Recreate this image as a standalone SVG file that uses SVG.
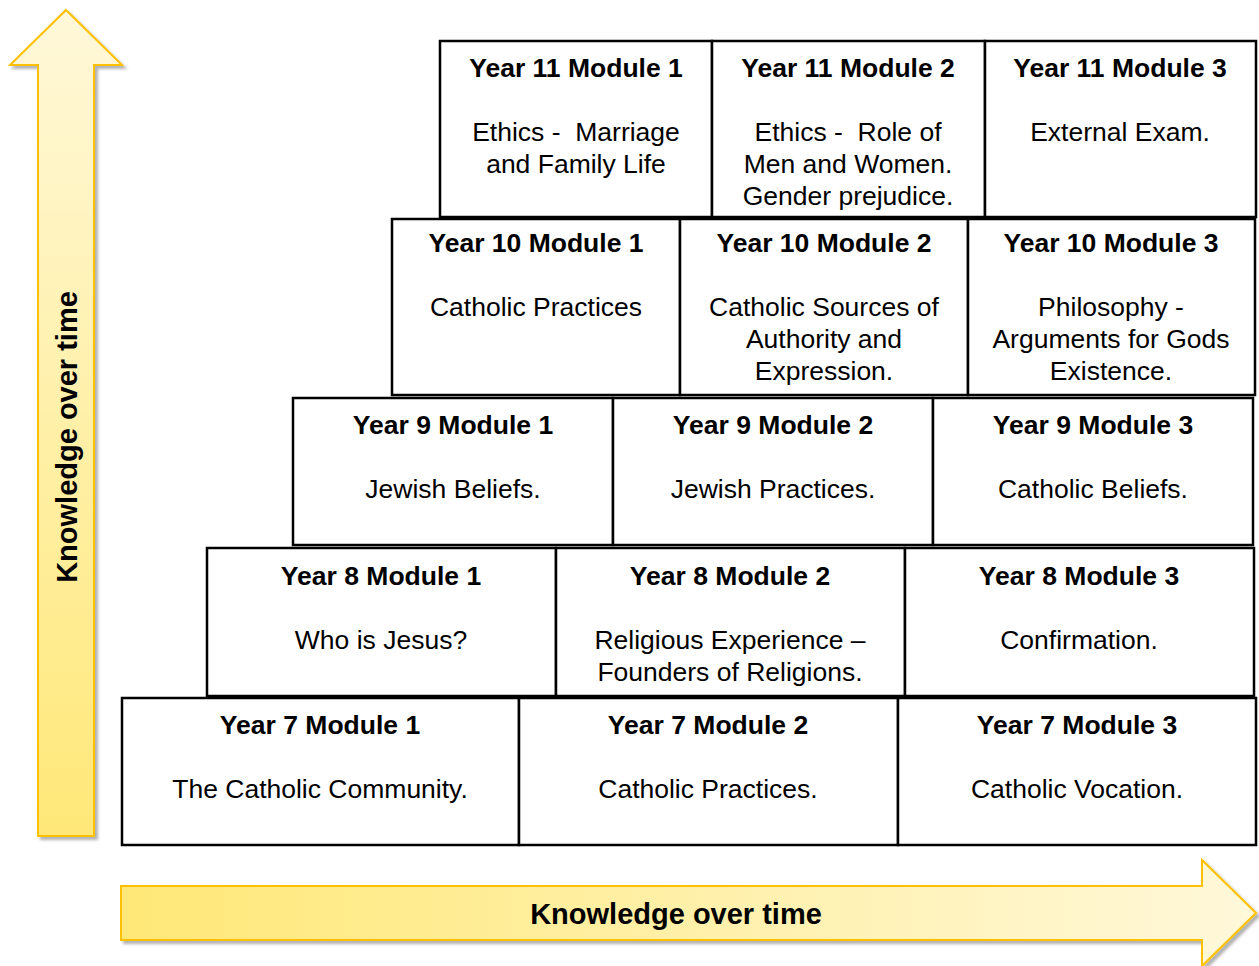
<svg xmlns="http://www.w3.org/2000/svg" width="1259" height="966" viewBox="0 0 1259 966">
  <defs>
    <linearGradient id="gradUp" x1="0" y1="0" x2="0" y2="1">
      <stop offset="0" stop-color="#fff8d9"/>
      <stop offset="1" stop-color="#ffe878"/>
    </linearGradient>
    <linearGradient id="gradRight" x1="0" y1="0" x2="1" y2="0">
      <stop offset="0" stop-color="#ffe877"/>
      <stop offset="1" stop-color="#fff8da"/>
    </linearGradient>
    <filter id="shadow" x="-10%" y="-10%" width="130%" height="130%">
      <feDropShadow dx="3" dy="3" stdDeviation="1.5" flood-color="#000" flood-opacity="0.3"/>
    </filter>
    <style>
      .box { fill: #ffffff; stroke: #000000; stroke-width: 2.5; }
      .arrow { stroke: #ffc000; stroke-width: 2; stroke-linejoin: miter; }
      .title { font-family: "Liberation Sans", Arial, sans-serif; font-size: 26.5px; font-weight: bold; fill: #000; text-anchor: middle; }
      .body { font-family: "Liberation Sans", Arial, sans-serif; font-size: 26.5px; fill: #000; text-anchor: middle; white-space: pre; }
      .axis { font-family: "Liberation Sans", Arial, sans-serif; font-size: 29px; font-weight: bold; fill: #000; text-anchor: middle; }
    </style>
  </defs>

  <!-- axis arrows -->
  <g id="connectors">
    <polygon class="arrow" fill="url(#gradUp)" filter="url(#shadow)"
             points="66,10 122,65 94,65 94,836 38,836 38,65 10,65"/>
    <text class="axis" transform="translate(77,437) rotate(-90)">Knowledge over time</text>
    <polygon class="arrow" fill="url(#gradRight)" filter="url(#shadow)"
             points="121,886 1202,886 1202,860 1256,913 1202,966 1202,940 121,940"/>
    <text class="axis" x="676" y="924">Knowledge over time</text>
  </g>

  <!-- Year 11 -->
  <g id="y11m1">
    <rect class="box" x="440" y="41" width="272" height="176"/>
    <text class="title" x="576" y="77">Year 11 Module 1</text>
    <text class="body" x="576" y="141" xml:space="preserve">Ethics -  Marriage</text>
    <text class="body" x="576" y="173">and Family Life</text>
  </g>
  <g id="y11m2">
    <rect class="box" x="712" y="41" width="273" height="176"/>
    <text class="title" x="848" y="77">Year 11 Module 2</text>
    <text class="body" x="848" y="141" xml:space="preserve">Ethics -  Role of</text>
    <text class="body" x="848" y="173">Men and Women.</text>
    <text class="body" x="848" y="205">Gender prejudice.</text>
  </g>
  <g id="y11m3">
    <rect class="box" x="985" y="41" width="271" height="176"/>
    <text class="title" x="1120" y="77">Year 11 Module 3</text>
    <text class="body" x="1120" y="141">External Exam.</text>
  </g>

  <!-- Year 10 -->
  <g id="y10m1">
    <rect class="box" x="392" y="219" width="288" height="176"/>
    <text class="title" x="536" y="252">Year 10 Module 1</text>
    <text class="body" x="536" y="316">Catholic Practices</text>
  </g>
  <g id="y10m2">
    <rect class="box" x="680" y="219" width="288" height="176"/>
    <text class="title" x="824" y="252">Year 10 Module 2</text>
    <text class="body" x="824" y="316">Catholic Sources of</text>
    <text class="body" x="824" y="348">Authority and</text>
    <text class="body" x="824" y="380">Expression.</text>
  </g>
  <g id="y10m3">
    <rect class="box" x="968" y="219" width="287" height="176"/>
    <text class="title" x="1111" y="252">Year 10 Module 3</text>
    <text class="body" x="1111" y="316">Philosophy -</text>
    <text class="body" x="1111" y="348">Arguments for Gods</text>
    <text class="body" x="1111" y="380">Existence.</text>
  </g>

  <!-- Year 9 -->
  <g id="y9m1">
    <rect class="box" x="293" y="398" width="320" height="147"/>
    <text class="title" x="453" y="434">Year 9 Module 1</text>
    <text class="body" x="453" y="498">Jewish Beliefs.</text>
  </g>
  <g id="y9m2">
    <rect class="box" x="613" y="398" width="320" height="147"/>
    <text class="title" x="773" y="434">Year 9 Module 2</text>
    <text class="body" x="773" y="498">Jewish Practices.</text>
  </g>
  <g id="y9m3">
    <rect class="box" x="933" y="398" width="320" height="147"/>
    <text class="title" x="1093" y="434">Year 9 Module 3</text>
    <text class="body" x="1093" y="498">Catholic Beliefs.</text>
  </g>

  <!-- Year 8 -->
  <g id="y8m1">
    <rect class="box" x="207" y="548" width="349" height="148"/>
    <text class="title" x="381" y="585">Year 8 Module 1</text>
    <text class="body" x="381" y="649">Who is Jesus?</text>
  </g>
  <g id="y8m2">
    <rect class="box" x="556" y="548" width="349" height="148"/>
    <text class="title" x="730" y="585">Year 8 Module 2</text>
    <text class="body" x="730" y="649">Religious Experience –</text>
    <text class="body" x="730" y="681">Founders of Religions.</text>
  </g>
  <g id="y8m3">
    <rect class="box" x="905" y="548" width="349" height="148"/>
    <text class="title" x="1079" y="585">Year 8 Module 3</text>
    <text class="body" x="1079" y="649">Confirmation.</text>
  </g>

  <!-- Year 7 -->
  <g id="y7m1">
    <rect class="box" x="122" y="698" width="397" height="147"/>
    <text class="title" x="320" y="734">Year 7 Module 1</text>
    <text class="body" x="320" y="798">The Catholic Community.</text>
  </g>
  <g id="y7m2">
    <rect class="box" x="519" y="698" width="379" height="147"/>
    <text class="title" x="708" y="734">Year 7 Module 2</text>
    <text class="body" x="708" y="798">Catholic Practices.</text>
  </g>
  <g id="y7m3">
    <rect class="box" x="898" y="698" width="358" height="147"/>
    <text class="title" x="1077" y="734">Year 7 Module 3</text>
    <text class="body" x="1077" y="798">Catholic Vocation.</text>
  </g>
</svg>
